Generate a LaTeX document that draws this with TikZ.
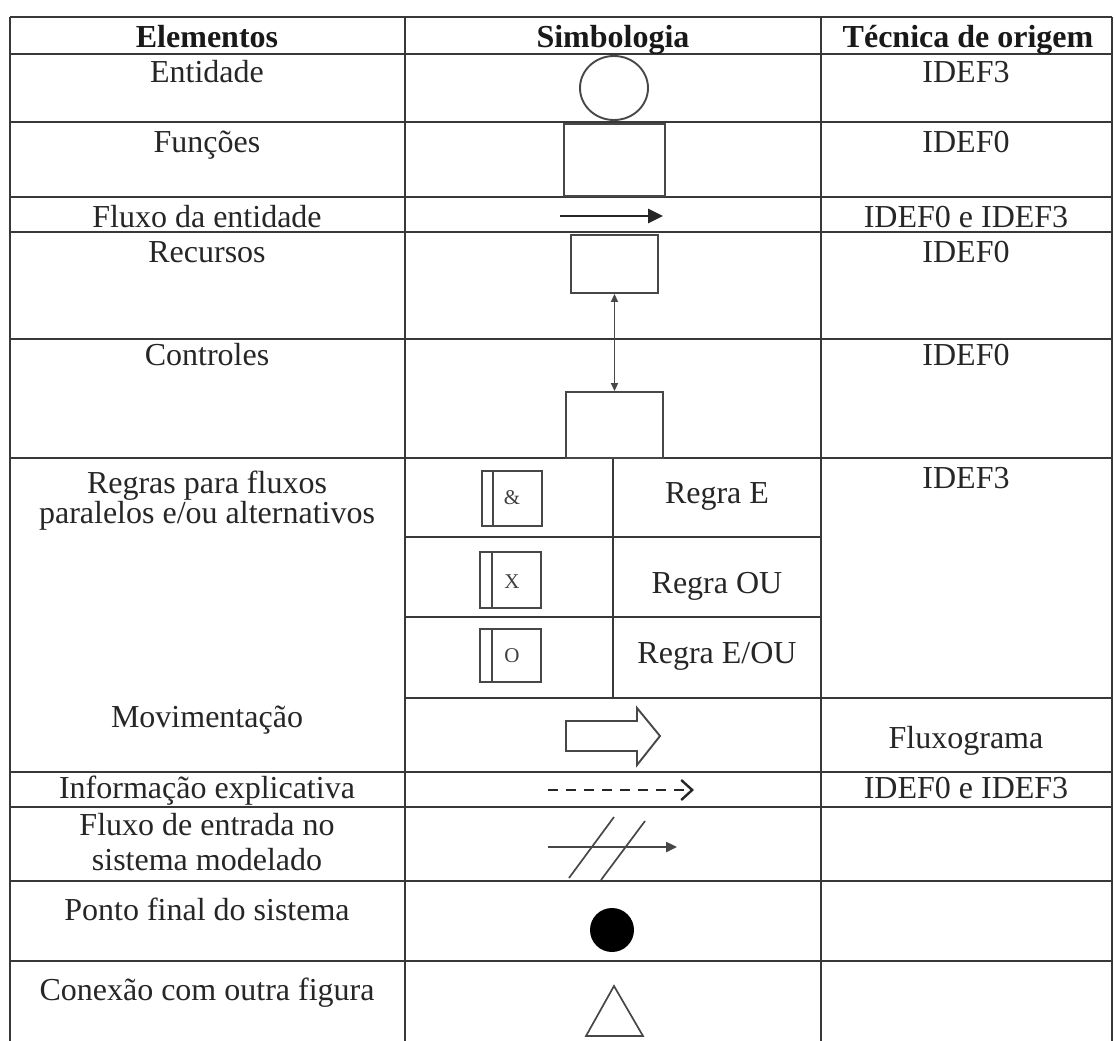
\documentclass[tikz,border=0pt]{standalone}
\usepackage{fontspec}
\setmainfont{Liberation Serif}
\usetikzlibrary{arrows.meta,shapes.geometric}

\begin{document}
\begin{tikzpicture}[x=1pt,y=-1pt,
  lbl/.style={font=\fontsize{32}{36}\selectfont, inner sep=0pt, anchor=base, text=black!85},
  hdr/.style={font=\fontsize{32}{36}\selectfont\bfseries, inner sep=0pt, anchor=base, text=black!90},
  rulechar/.style={font=\fontsize{21}{24}\selectfont, inner sep=0pt, text=black!75},
  grid/.style={line width=2.6pt, draw=black!78},
  sym/.style={draw=black!72, line width=1.9pt, fill=white, inner sep=0pt},
  symline/.style={draw=black!72, line width=1.9pt},
]
\useasboundingbox (0,0) rectangle (1114,1041);
\fill[white] (0,0) rectangle (1114,1041);

% ---- table grid ----
\foreach \yy in {17,54,122,197,232,339,458,772,807,881,961}
  \draw[grid] (10,\yy) -- (1112,\yy);
\foreach \yy in {537,617}
  \draw[grid] (405,\yy) -- (821,\yy);
\draw[grid] (405,698) -- (1112,698);
\foreach \xx in {10,405,821,1112}
  \draw[grid] (\xx,17) -- (\xx,1045);
\draw[grid] (613,458) -- (613,698);

% ---- header ----
\node[hdr] (h1) at (207,48) {Elementos};
\node[hdr] (h2) at (613,48) {Simbologia};
\node[hdr] (h3) at (968,48) {Técnica de origem};

% ---- first column ----
\node[lbl] (e1) at (207,82) {Entidade};
\node[lbl] (e2) at (207,152) {Funções};
\node[lbl] (e3) at (207,227) {Fluxo da entidade};
\node[lbl] (e4) at (207,262) {Recursos};
\node[lbl] (e5) at (207,365) {Controles};
\node[lbl] (e6a) at (207,493) {Regras para fluxos};
\node[lbl] (e6b) at (207,523) {paralelos e/ou alternativos};
\node[lbl] (e7) at (207,727) {Movimentação};
\node[lbl] (e8) at (207,798) {Informação explicativa};
\node[lbl] (e9a) at (207,835) {Fluxo de entrada no};
\node[lbl] (e9b) at (207,870) {sistema modelado};
\node[lbl] (e10) at (207,920) {Ponto final do sistema};
\node[lbl] (e11) at (207,1000) {Conexão com outra figura};

% ---- third column ----
\node[lbl] (t1) at (966,82) {IDEF3};
\node[lbl] (t2) at (966,152) {IDEF0};
\node[lbl] (t3) at (966,227) {IDEF0 e IDEF3};
\node[lbl] (t4) at (966,262) {IDEF0};
\node[lbl] (t5) at (966,365) {IDEF0};
\node[lbl] (t6) at (966,488) {IDEF3};
\node[lbl] (t7) at (966,748) {Fluxograma};
\node[lbl] (t8) at (966,798) {IDEF0 e IDEF3};

% ---- rule names ----
\node[lbl] (r1) at (717,503) {Regra E};
\node[lbl] (r2) at (717,593) {Regra OU};
\node[lbl] (r3) at (717,663) {Regra E/OU};

% ---- symbols ----
% entity
\node[sym, ellipse, minimum width=68pt, minimum height=64pt] (ent) at (614,88) {};
% function
\node[sym, rectangle, minimum width=101pt, minimum height=72pt] (fun) at (614.5,160) {};
% entity flow
\coordinate (fa) at (560,216);
\coordinate (fb) at (663,216);
\draw[symline, line width=2.6pt, draw=black!85, -{Triangle[length=15pt,width=14pt]}] (fa) -- (fb);
% resources and controls
\node[sym, rectangle, minimum width=87pt, minimum height=58pt] (res) at (614.5,264) {};
\node[sym, rectangle, minimum width=97pt, minimum height=66pt] (ctl) at (614.5,425) {};
\draw[symline, line width=1.8pt, {Triangle[length=8pt,width=7pt]}-{Triangle[length=8pt,width=7pt]}] (res) -- (ctl);

% junction boxes
\node[sym, rectangle, minimum width=60pt, minimum height=55pt] (jand) at (512,498.5) {};
\draw[symline] (493,471) -- (493,526);
\node[rulechar] (cand) at (512,498) {\&};
\node[sym, rectangle, minimum width=61pt, minimum height=56pt] (jor) at (510.5,580) {};
\draw[symline] (492,552) -- (492,608);
\node[rulechar] (cor) at (512,582) {X};
\node[sym, rectangle, minimum width=61pt, minimum height=53pt] (jxor) at (510.5,655.5) {};
\draw[symline] (492,629) -- (492,682);
\node[rulechar] (cxor) at (512,656) {O};

% movement block arrow
\draw[symline, fill=white] (566,721) -- (637,721) -- (637,708) -- (660,736)
  -- (637,765) -- (637,751) -- (566,751) -- cycle;

% explanatory information
\coordinate (da) at (548,790);
\coordinate (db) at (694,790);
\draw[symline, line width=2.4pt, draw=black!85, dash pattern=on 10pt off 8pt,
  -{Straight Barb[length=11pt,width=20pt,line width=2.4pt]}] (da) -- (db);

% input flow
\coordinate (ia) at (548,847);
\coordinate (ib) at (677,847);
\draw[symline, line width=2.4pt, -{Triangle[length=11pt,width=10pt]}] (ia) -- (ib);
\draw[symline, line width=1.7pt] (569,878) -- (614,817);
\draw[symline, line width=1.7pt] (601,880) -- (645,821);

% end point
\fill[black] (612,930) circle[radius=22];

% connection to another figure
\draw[symline, line width=1.7pt] (614,986) -- (643,1036) -- (586,1036) -- cycle;
\end{tikzpicture}
\end{document}
